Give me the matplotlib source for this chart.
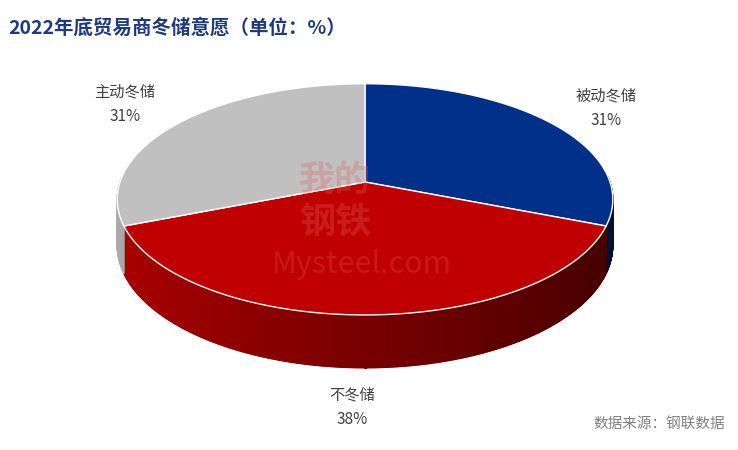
import numpy as np
import matplotlib.pyplot as plt
from matplotlib.patches import Polygon
from matplotlib.colors import to_rgb

plt.rcParams['font.family'] = ['Noto Sans CJK SC', 'DejaVu Sans']

labels = ['被动冬储', '不冬储', '主动冬储']
values = [31, 38, 31]
colors = ['#003087', '#c00000', '#c0c0c0']

# pie geometry with a little perspective (far side smaller)
cx, cy, rx, ry, depth, k = 365, 182, 245, 113, 45, 0.15

fig = plt.figure(figsize=(7.38, 4.5), dpi=100)
ax = fig.add_axes([0, 0, 1, 1])
ax.set_xlim(0, 738)
ax.set_ylim(450, 0)
ax.axis('off')

def pt(t, down=0.0):
    f = 1 + k * np.sin(t)
    return cx + rx * np.cos(t) / f, cy - ry * np.sin(t) / f + down * depth / f

fr = np.array(values) / sum(values)
starts = np.pi / 2 - 2 * np.pi * np.concatenate([[0], np.cumsum(fr)[:-1]])
ends = starts - 2 * np.pi * fr

# side wall (front half)
for s, e, c in zip(starts, ends, colors):
    base = np.array(to_rgb(c))
    ts = np.linspace(e, s, 500)
    for a, b in zip(ts[:-1], ts[1:]):
        m = (a + b) / 2
        if np.sin(m) > 0.05:
            continue
        shade = 0.9 - 0.55 * (np.cos(m) + 1) / 2
        col = np.clip(base * shade, 0, 1)
        ax.add_patch(Polygon([pt(a), pt(b), pt(b, 1), pt(a, 1)], closed=True,
                             fc=col, ec=col, lw=0.8, zorder=1))

# top faces
for s, e, c in zip(starts, ends, colors):
    ts = np.linspace(s, e, 200)
    xy = [(cx, cy)] + [pt(t) for t in ts]
    ax.add_patch(Polygon(xy, closed=True, fc=c, ec='white', lw=1, zorder=2))

# watermark
ax.text(335, 180, '我的', fontsize=26, color='#e06060', alpha=0.3,
        ha='center', va='center', fontweight='bold', zorder=5)
ax.text(335, 222, '钢铁', fontsize=26, color='#e06060', alpha=0.3,
        ha='center', va='center', fontweight='bold', zorder=5)
ax.text(362, 264, 'Mysteel.com', fontsize=22, color='#e06060', alpha=0.25,
        ha='center', va='center', zorder=5)

lab_pos = [(606, 108), (352, 407), (125, 104)]
for (x, y), l, v in zip(lab_pos, labels, values):
    ax.text(x, y, f'{l}\n{v}%', fontsize=11, color='#404040', ha='center',
            va='center', linespacing=1.6)

ax.text(8, 28, '2022年底贸易商冬储意愿（单位：%）', fontsize=14, fontweight='bold',
        color='#1f3a7a', va='center')
ax.text(725, 424, '数据来源：钢联数据', fontsize=10.5, color='#808080', ha='right', va='center')

fig.savefig('out.png', dpi=100)
